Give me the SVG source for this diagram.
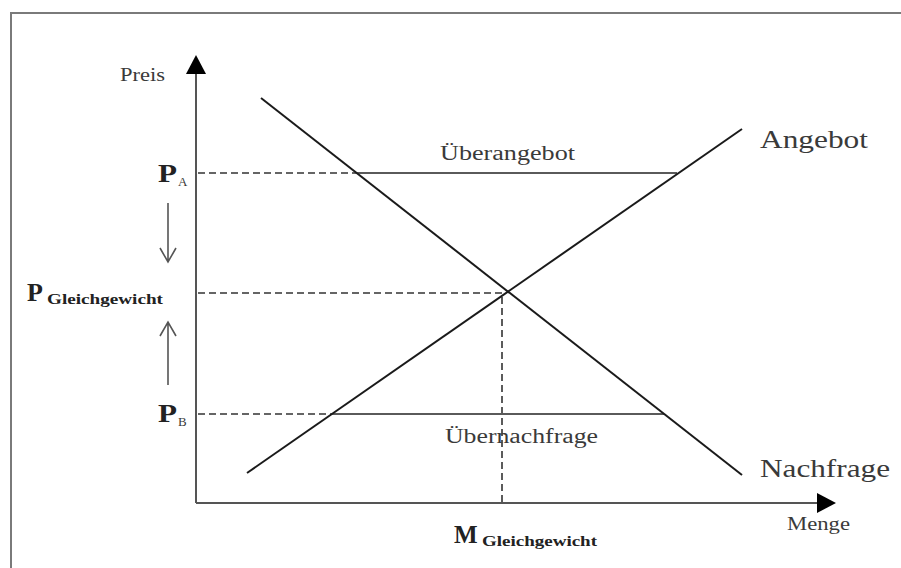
<svg xmlns="http://www.w3.org/2000/svg" width="901" height="568" viewBox="0 0 901 568">
  <defs>
    <style>
      .frame { fill: none; stroke: #7a7a7a; stroke-width: 2; }
      .axis { fill: none; stroke: #555; stroke-width: 2; }
      .curve { fill: none; stroke: #1a1a1a; stroke-width: 2; }
      .gap { fill: none; stroke: #5a5a5a; stroke-width: 2; }
      .dash { fill: none; stroke: #333; stroke-width: 1.6; stroke-dasharray: 7 4; }
      .move { fill: none; stroke: #555; stroke-width: 1.6; }
      .serif { font-family: "Liberation Serif", "DejaVu Serif", serif; fill: #3a3a3a; }
      .bold { font-weight: bold; fill: #222; }
    </style>
  </defs>

  <rect width="901" height="568" fill="#fff"/>
  <!-- outer frame (open to the right and bottom edges) -->
  <path class="frame" d="M11,580 L11,13 L910,13"/>

  <!-- axes -->
  <g id="axes">
    <path class="axis" d="M196,503 L196,60"/>
    <path d="M186,74 L196,55 L206,74 Z" fill="#000"/>
    <path class="axis" d="M196,503 L820,503"/>
    <path d="M817,493 L836,503 L817,513 Z" fill="#000"/>
  </g>

  <!-- connectors: helper lines and price movement arrows -->
  <g id="connectors">
    <path class="dash" d="M198,173 L358,173"/>
    <path class="dash" d="M198,293 L505,293"/>
    <path class="dash" d="M198,414 L333,414"/>
    <path class="dash" d="M502,297 L502,503"/>
    <path class="gap" d="M358,173 L677,173"/>
    <path class="gap" d="M333,414 L664,414"/>
    <path class="move" d="M168,203 L168,262 M160,248 L168,262 L176,248"/>
    <path class="move" d="M168,385 L168,322 M160,336 L168,322 L176,336"/>
  </g>

  <!-- supply and demand curves -->
  <g id="nachfrage">
    <path class="curve" d="M261,98 L742,475"/>
    <text class="serif" x="760" y="477" font-size="25" textLength="130" lengthAdjust="spacingAndGlyphs">Nachfrage</text>
  </g>
  <g id="angebot">
    <path class="curve" d="M247,473 L742,129"/>
    <text class="serif" x="760" y="148" font-size="25" textLength="108" lengthAdjust="spacingAndGlyphs">Angebot</text>
  </g>

  <!-- region labels -->
  <g id="ueberangebot">
    <text class="serif" x="440" y="160" font-size="20" textLength="135" lengthAdjust="spacingAndGlyphs">Überangebot</text>
  </g>
  <g id="uebernachfrage">
    <text class="serif" x="445" y="443" font-size="20" textLength="153" lengthAdjust="spacingAndGlyphs">Übernachfrage</text>
  </g>

  <!-- axis labels -->
  <g id="preis">
    <text class="serif" x="120" y="81" font-size="19" textLength="45" lengthAdjust="spacingAndGlyphs">Preis</text>
  </g>
  <g id="menge">
    <text class="serif" x="787" y="530" font-size="18" textLength="63" lengthAdjust="spacingAndGlyphs">Menge</text>
  </g>

  <!-- price levels -->
  <g id="p-a">
    <text class="serif bold" x="158" y="182" font-size="25" textLength="19" lengthAdjust="spacingAndGlyphs">P</text>
    <text class="serif" x="178" y="186" font-size="13">A</text>
  </g>
  <g id="p-gleichgewicht">
    <text class="serif bold" x="27" y="301" font-size="26">P</text>
    <text class="serif bold" x="47" y="304" font-size="15" textLength="116" lengthAdjust="spacingAndGlyphs">Gleichgewicht</text>
  </g>
  <g id="p-b">
    <text class="serif bold" x="158" y="422" font-size="25" textLength="19" lengthAdjust="spacingAndGlyphs">P</text>
    <text class="serif" x="178" y="426" font-size="13">B</text>
  </g>

  <!-- equilibrium quantity -->
  <g id="m-gleichgewicht">
    <text class="serif bold" x="454" y="543" font-size="25">M</text>
    <text class="serif bold" x="482" y="546" font-size="15" textLength="115" lengthAdjust="spacingAndGlyphs">Gleichgewicht</text>
  </g>
</svg>
